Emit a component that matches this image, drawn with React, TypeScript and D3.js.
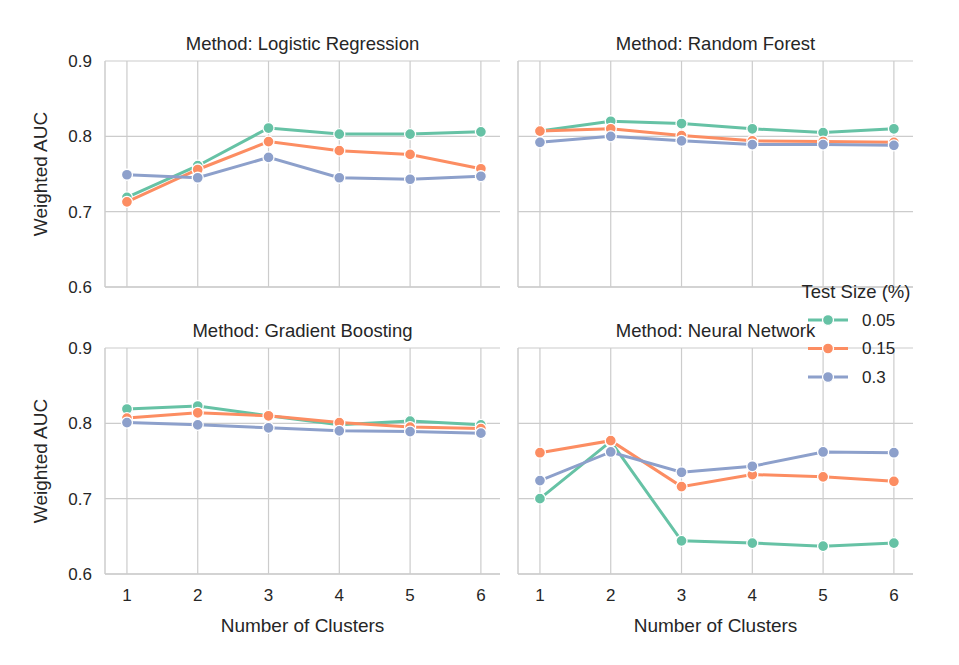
import * as React from 'react';
import * as d3 from 'd3';

const clusters = [1, 2, 3, 4, 5, 6];
const testSizes = ['0.05', '0.15', '0.3'];
const colors = ['#66c2a5', '#fc8d62', '#8da0cb'];
const yTicks = [0.6, 0.7, 0.8, 0.9];

const logistic = [
  [0.719, 0.761, 0.811, 0.803, 0.803, 0.806],
  [0.713, 0.756, 0.793, 0.781, 0.776, 0.757],
  [0.749, 0.745, 0.772, 0.745, 0.743, 0.747],
];
const forest = [
  [0.807, 0.820, 0.817, 0.810, 0.805, 0.810],
  [0.807, 0.810, 0.801, 0.794, 0.793, 0.792],
  [0.792, 0.800, 0.794, 0.789, 0.789, 0.788],
];
const boosting = [
  [0.819, 0.823, 0.810, 0.798, 0.803, 0.798],
  [0.807, 0.814, 0.810, 0.801, 0.795, 0.793],
  [0.801, 0.798, 0.794, 0.790, 0.789, 0.787],
];
const neural = [
  [0.700, 0.776, 0.644, 0.641, 0.637, 0.641],
  [0.761, 0.777, 0.716, 0.732, 0.729, 0.723],
  [0.724, 0.762, 0.735, 0.743, 0.762, 0.761],
];

const panels = [
  { title: 'Method: Logistic Regression', data: logistic, col: 0, row: 0 },
  { title: 'Method: Random Forest', data: forest, col: 1, row: 0 },
  { title: 'Method: Gradient Boosting', data: boosting, col: 0, row: 1 },
  { title: 'Method: Neural Network', data: neural, col: 1, row: 1 },
];

const font = 'Arial, "Liberation Sans", sans-serif';
const txt = '#262626';
const grid = '#cccccc';

const Panel = ({ p }: { p: typeof panels[0] }) => {
  const x0 = p.col === 0 ? 105 : 518;
  const y0 = p.row === 0 ? 61 : 348;
  const w = 395, h = 226;
  const x = d3.scaleLinear().domain([0.69, 6.27]).range([x0, x0 + w]);
  const y = d3.scaleLinear().domain([0.6, 0.9]).range([y0 + h, y0]);
  const line = d3.line<number>().x((_, i) => x(clusters[i])).y(d => y(d));
  return (
    <g>
      {yTicks.map(t => <line key={'y' + t} x1={x0} x2={x0 + w} y1={y(t)} y2={y(t)} stroke={grid} strokeWidth={1.2} />)}
      {clusters.map(c => <line key={'x' + c} x1={x(c)} x2={x(c)} y1={y0} y2={y0 + h} stroke={grid} strokeWidth={1.2} />)}
      <line x1={x0} x2={x0} y1={y0} y2={y0 + h} stroke={grid} strokeWidth={1.5} />
      <line x1={x0} x2={x0 + w} y1={y0 + h} y2={y0 + h} stroke={grid} strokeWidth={1.5} />
      {p.data.map((s, k) => (
        <g key={k}>
          <path d={line(s) || ''} fill="none" stroke={colors[k]} strokeWidth={3} />
          {s.map((v, i) => <circle key={i} cx={x(clusters[i])} cy={y(v)} r={5.5} fill={colors[k]} stroke="#fff" strokeWidth={1.3} />)}
        </g>
      ))}
      <text x={x0 + w / 2} y={y0 - 11} textAnchor="middle" fontSize={18.5} fill={txt}>{p.title}</text>
      {p.col === 0 && yTicks.map(t => (
        <text key={'yl' + t} x={x0 - 13} y={y(t)} dy="0.35em" textAnchor="end" fontSize={17} fill={txt}>{t.toFixed(1)}</text>
      ))}
      {p.col === 0 && (
        <text transform={`translate(${x0 - 58},${y0 + h / 2}) rotate(-90)`} textAnchor="middle" fontSize={19} fill={txt}>Weighted AUC</text>
      )}
      {p.row === 1 && clusters.map(c => (
        <text key={'xl' + c} x={x(c)} y={y0 + h + 27} textAnchor="middle" fontSize={17} fill={txt}>{c}</text>
      ))}
      {p.row === 1 && (
        <text x={x0 + w / 2} y={y0 + h + 58} textAnchor="middle" fontSize={19} fill={txt}>Number of Clusters</text>
      )}
    </g>
  );
};

export default function App() {
  return (
    <svg width={959} height={665} style={{ display: 'block', margin: -8, fontFamily: font }} fontFamily={font}>
      <rect width={959} height={665} fill="#fff" />
      {panels.map(p => <Panel key={p.title} p={p} />)}
      <g>
        <text x={856} y={298} textAnchor="middle" fontSize={18.5} fill={txt}>Test Size (%)</text>
        {testSizes.map((t, k) => (
          <g key={t} transform={`translate(0,${320 + k * 28.5})`}>
            <line x1={808} x2={848} y1={0} y2={0} stroke={colors[k]} strokeWidth={3} />
            <circle cx={828} cy={0} r={5.5} fill={colors[k]} stroke="#fff" strokeWidth={1.3} />
            <text x={862} y={0} dy="0.35em" fontSize={17} fill={txt}>{t}</text>
          </g>
        ))}
      </g>
    </svg>
  );
}
